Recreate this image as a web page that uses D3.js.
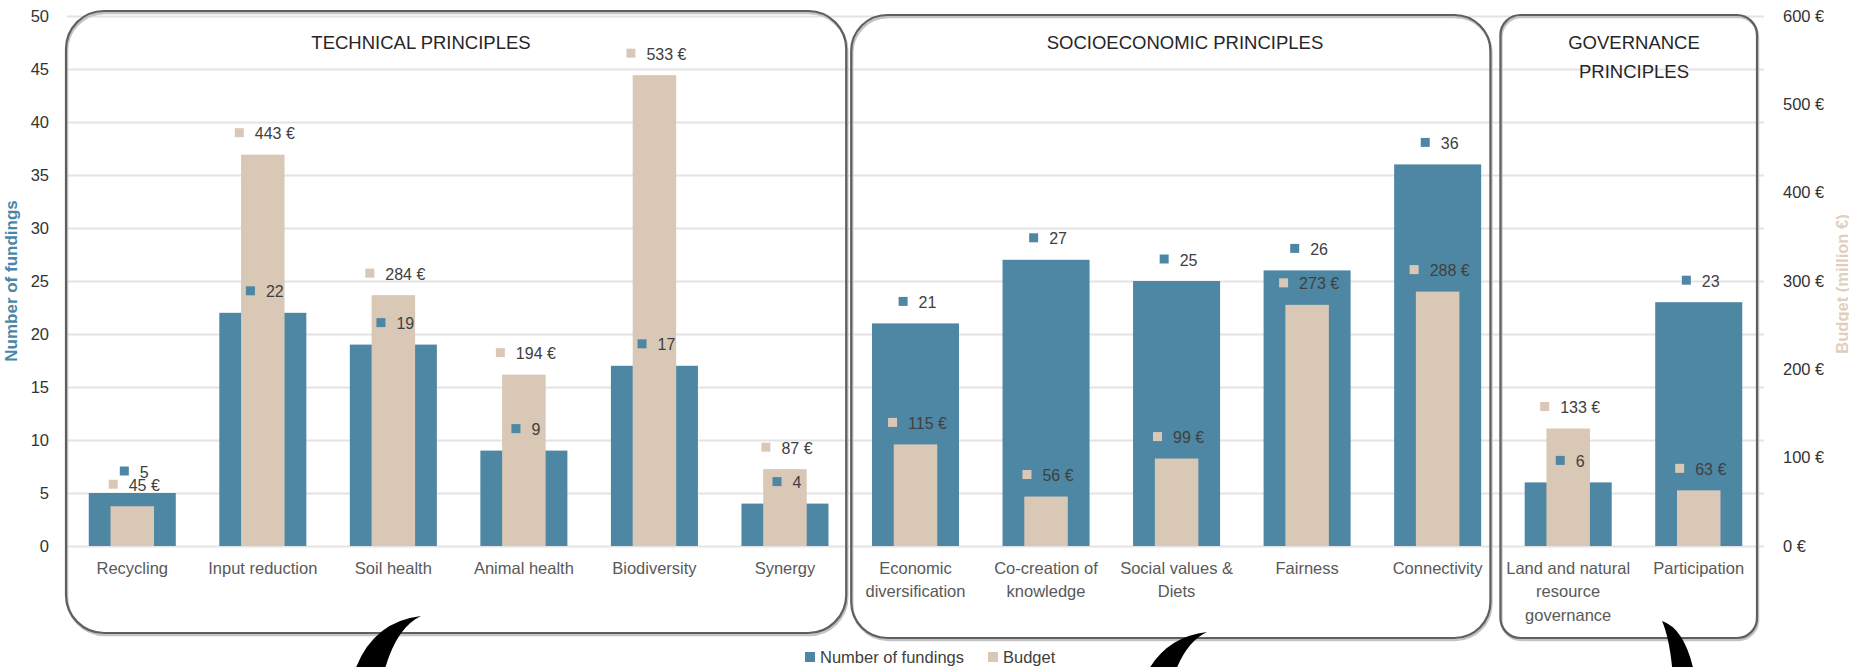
<!DOCTYPE html>
<html>
<head>
<meta charset="utf-8">
<script src="https://cdn.jsdelivr.net/npm/d3@7"></script>
<style>
  html, body { margin: 0; padding: 0; background: #ffffff; }
  svg { display: block; font-family: "Liberation Sans", Arial, sans-serif; }
</style>
</head>
<body>
<svg id="chart" width="1849" height="667"></svg>
<script>
// ---------------- DATA ----------------
const categories = [
  "Recycling", "Input reduction", "Soil health", "Animal health", "Biodiversity", "Synergy",
  "Economic diversification", "Co-creation of knowledge", "Social values & Diets", "Fairness", "Connectivity",
  "Land and natural resource governance", "Participation"
];
const categoryLines = [
  ["Recycling"], ["Input reduction"], ["Soil health"], ["Animal health"], ["Biodiversity"], ["Synergy"],
  ["Economic", "diversification"], ["Co-creation of", "knowledge"], ["Social values &", "Diets"], ["Fairness"], ["Connectivity"],
  ["Land and natural", "resource", "governance"], ["Participation"]
];
const fundings = [5, 22, 19, 9, 17, 4, 21, 27, 25, 26, 36, 6, 23];
const budget   = [45, 443, 284, 194, 533, 87, 115, 56, 99, 273, 288, 133, 63];
const countTicks  = [0, 5, 10, 15, 20, 25, 30, 35, 40, 45, 50];
const budgetTicks = [0, 100, 200, 300, 400, 500, 600];
const seriesNames = ["Number of fundings", "Budget"];
const groupTitles = [["TECHNICAL PRINCIPLES"], ["SOCIOECONOMIC PRINCIPLES"], ["GOVERNANCE", "PRINCIPLES"]];
const groupFirst  = [0, 6, 11];
const groupLast   = [5, 10, 12];

// ---------------- LAYOUT / STYLE ----------------
const W = 1849, H = 667;
const plotL = 67, plotR = 1764, plotT = 16, plotB = 546;
const BLUE = "#4e87a3", BEIGE = "#d9c8b6";
const FONT = 16.5;
const box = {
  insetL: [-1, 1, -2.5], insetR: [-4, -12.5, -7],
  top: [11, 15, 15], bottom: [633, 638, 638], radius: [38, 36, 20],
  titleX: [421, 1185, 1634], titleY: 43, titleLH: 29
};

const svg = d3.select("#chart");

const x = d3.scaleBand().domain(categories).range([plotL, plotR]).paddingInner(1/3).paddingOuter(1/6);
const yC = d3.scaleLinear().domain([0, 50]).range([plotB, plotT]);
const yB = d3.scaleLinear().domain([0, 600]).range([plotB, plotT]);
const step = x.step();
const edge = i => plotL + step * i;

// gridlines
const grid = svg.append("g").attr("transform", `translate(${plotL},0)`)
  .call(d3.axisLeft(yC).tickValues(countTicks).tickSize(-(plotR - plotL)).tickFormat(""));
grid.select(".domain").remove();
grid.selectAll("line").attr("stroke", "#e3e3e3").attr("stroke-width", 2);

// rounded boxes
function roundRect(l, t, r, b, rad) {
  const p = d3.path();
  p.moveTo(l + rad, t);
  p.lineTo(r - rad, t);
  p.arcTo(r, t, r, t + rad, rad);
  p.lineTo(r, b - rad);
  p.arcTo(r, b, r - rad, b, rad);
  p.lineTo(l + rad, b);
  p.arcTo(l, b, l, b - rad, rad);
  p.lineTo(l, t + rad);
  p.arcTo(l, t, l + rad, t, rad);
  p.closePath();
  return p.toString();
}
groupFirst.forEach((f, i) => {
  const l = edge(f) + box.insetL[i];
  const r = edge(groupLast[i] + 1) + box.insetR[i];
  const d = roundRect(l, box.top[i], r, box.bottom[i], box.radius[i]);
  svg.append("path").attr("d", d).attr("fill", "none")
    .attr("stroke", "#c4c4c4").attr("stroke-width", 2.5).attr("transform", "translate(1,2)");
  svg.append("path").attr("d", d).attr("fill", "none")
    .attr("stroke", "#5f5f5f").attr("stroke-width", 2.2);
  groupTitles[i].forEach((line, j) => {
    svg.append("text").attr("x", box.titleX[i]).attr("y", box.titleY + j * box.titleLH)
      .attr("dy", "0.35em").attr("text-anchor", "middle")
      .attr("font-size", 18.5).attr("fill", "#262626").text(line);
  });
});

// bars
const bw = x.bandwidth();
svg.append("g").selectAll("rect").data(categories).join("rect")
  .attr("x", c => x(c)).attr("width", bw)
  .attr("y", (c, i) => yC(fundings[i])).attr("height", (c, i) => plotB - yC(fundings[i]))
  .attr("fill", BLUE);
svg.append("g").selectAll("rect").data(categories).join("rect")
  .attr("x", c => x(c) + bw / 4).attr("width", bw / 2)
  .attr("y", (c, i) => yB(budget[i])).attr("height", (c, i) => plotB - yB(budget[i]))
  .attr("fill", BEIGE);

// left axis labels
const la = svg.append("g").attr("transform", `translate(${plotL},0)`)
  .call(d3.axisLeft(yC).tickValues(countTicks).tickSize(0).tickPadding(18));
la.select(".domain").remove();
la.selectAll("text").attr("font-size", FONT).attr("fill", "#333").attr("font-family", null);

// right axis labels
const ra = svg.append("g").attr("transform", `translate(${plotR},0)`)
  .call(d3.axisRight(yB).tickValues(budgetTicks).tickSize(0).tickPadding(19).tickFormat(d => d + " €"));
ra.select(".domain").remove();
ra.selectAll("text").attr("font-size", FONT).attr("fill", "#333").attr("font-family", null);

// axis titles
svg.append("text").attr("transform", `translate(11,${(plotT + plotB) / 2}) rotate(-90)`)
  .attr("dy", "0.35em").attr("text-anchor", "middle").attr("font-weight", "bold")
  .attr("font-size", 17).attr("fill", "#4a86a8").text("Number of fundings");
svg.append("text").attr("transform", `translate(1842,${(plotT + plotB) / 2 + 3}) rotate(-90)`)
  .attr("dy", "0.35em").attr("text-anchor", "middle").attr("font-weight", "bold")
  .attr("font-size", 16.5).attr("fill", "#dfcfbd").text("Budget (million €)");

// category labels
const cl = svg.append("g");
categories.forEach((c, i) => {
  categoryLines[i].forEach((line, j) => {
    cl.append("text").attr("x", x(c) + bw / 2).attr("y", 568 + j * 23.7)
      .attr("dy", "0.35em").attr("text-anchor", "middle")
      .attr("font-size", FONT).attr("fill", "#595959").text(line);
  });
});

// data labels with legend keys
function dataLabel(cx, cy, color, txt) {
  const g = svg.append("g");
  const sq = 9, gap = 11;
  const t = g.append("text").attr("y", cy).attr("dy", "0.35em")
    .attr("font-size", 16).attr("fill", "#404040").text(txt);
  const tw = t.node().getComputedTextLength();
  const total = sq + gap + tw;
  const x0 = cx - total / 2 + 2;
  g.append("rect").attr("x", x0).attr("y", cy - sq / 2 - 1).attr("width", sq).attr("height", sq).attr("fill", color);
  t.attr("x", x0 + sq + gap);
}
categories.forEach((c, i) => {
  const cx = x(c) + bw / 2;
  dataLabel(cx, yC(fundings[i]) - 21, BLUE, String(fundings[i]));
  dataLabel(cx, yB(budget[i]) - 21, BEIGE, budget[i] + " €");
});

// legend
let lx = 805;
const ly = 657;
[BLUE, BEIGE].forEach((col, i) => {
  svg.append("rect").attr("x", lx).attr("y", ly - 5).attr("width", 10).attr("height", 10).attr("fill", col);
  const t = svg.append("text").attr("x", lx + 15).attr("y", ly).attr("dy", "0.35em")
    .attr("font-size", FONT).attr("fill", "#404040").text(seriesNames[i]);
  lx += 15 + t.node().getComputedTextLength() + 24;
});

// black crescent decorations (tops of large brackets below the chart)
function crescent(tx, ty, o1, oc, i1, ic) {
  const p = d3.path();
  p.moveTo(tx, ty);
  p.quadraticCurveTo(tx + oc[0], ty + oc[1], tx + o1[0], ty + o1[1]);
  p.lineTo(tx + i1[0], ty + i1[1]);
  p.quadraticCurveTo(tx + ic[0], ty + ic[1], tx, ty);
  p.closePath();
  return p.toString();
}
const deco = svg.append("g").attr("fill", "#000");
deco.append("path").attr("d", crescent(421, 616, [-68, 60], [-51, 6], [-38, 60], [-26, 12]));
deco.append("path").attr("d", crescent(1207, 632, [-68, 60], [-51, 6], [-38, 60], [-26, 12]));
deco.append("path").attr("d", crescent(1662, 621, [33, 56], [24, 8], [11, 56], [8, 18]));
</script>
</body>
</html>
